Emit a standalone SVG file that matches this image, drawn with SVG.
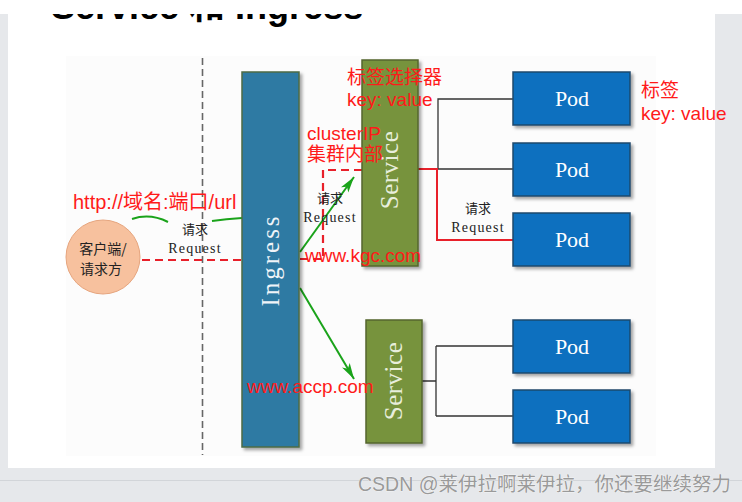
<svg xmlns="http://www.w3.org/2000/svg" width="742" height="502" viewBox="0 0 742 502">
<style>
.red{font-family:"Liberation Sans","Noto Sans CJK SC",sans-serif;fill:#ff1a1a;font-size:19px}
.req{font-family:"Liberation Serif","Noto Sans CJK SC",serif;fill:#222;font-size:14px;text-anchor:middle;letter-spacing:1.2px}
.reqc{font-family:"Noto Sans CJK SC",sans-serif;fill:#222;font-size:13px;text-anchor:middle}
.podt{font-family:"Liberation Serif",serif;fill:#fff;font-size:22px;text-anchor:middle}
.svct{font-family:"Liberation Serif",serif;fill:#e8eedc;font-size:25px;text-anchor:middle;letter-spacing:0.5px}
.pod{fill:#0b6fbf;stroke:#1f4a6e;stroke-width:1.5}
.svc{fill:#77933c;stroke:#55662e;stroke-width:1.5}
.blk{fill:none;stroke:#333;stroke-width:1.3}
.rdash{fill:none;stroke:#e8202a;stroke-width:2.2;stroke-dasharray:8 5}
.garrow{fill:none;stroke:#1aa31a;stroke-width:2}
.cjk{font-family:"Noto Sans CJK SC",sans-serif;font-size:14px;fill:#222;text-anchor:middle}
.title{font-family:"Liberation Sans","Noto Sans CJK SC",sans-serif;font-size:36px;font-weight:bold;fill:#000}
.wm{font-family:"Liberation Sans","Noto Sans CJK SC",sans-serif;font-size:19.5px;fill:#9a9a9a;stroke:#fff;stroke-width:0.6px;paint-order:stroke}
</style>
<defs>
<filter id="sh" x="-20%" y="-20%" width="150%" height="150%">
<feDropShadow dx="2.5" dy="2.5" stdDeviation="1.5" flood-color="#000" flood-opacity="0.35"/>
</filter>
<marker id="ga" markerUnits="userSpaceOnUse" markerWidth="18" markerHeight="10" refX="16" refY="5" orient="auto">
<path d="M0,0.5 L16,5 L0,9.5 L4,5 z" fill="#1aa31a"/>
</marker>
</defs>
<rect x="0" y="0" width="742" height="502" fill="#e6e8eb"/>
<rect x="8" y="0" width="707" height="468" fill="#ffffff"/>
<line x1="0" y1="480.5" x2="742" y2="480.5" stroke="#d2d5d9" stroke-width="1"/>
<text class="title" x="51" y="18.5">Service 和 Ingress</text>
<rect x="0" y="0" width="742" height="14" fill="#ffffff"/>
<rect x="66" y="56" width="590" height="400" fill="#fcfcfc"/>
<line x1="202.5" y1="58" x2="202.5" y2="455" stroke="#666" stroke-width="1.6" stroke-dasharray="7 4"/>

<g id="connectors">
<path class="blk" d="M438,169 V99 H513 M418,169 H513"/>
<path d="M418,169 H437 V240 H513" fill="none" stroke="#e8202a" stroke-width="2"/>
<path class="blk" d="M422,381 H436 M436,346 V416 M436,346 H513 M436,416 H513"/>
<path class="rdash" d="M142,260 H242"/>
<path class="rdash" d="M300,259 H323 V170 H362"/>
<line class="garrow" x1="300" y1="252" x2="354" y2="177" marker-end="url(#ga)"/>
<line class="garrow" x1="300" y1="288" x2="354" y2="379" marker-end="url(#ga)"/>
<path d="M132,219 Q150,213 168,222" fill="none" stroke="#1aa31a" stroke-width="2"/>
<path d="M212,221 Q226,219 242,218" fill="none" stroke="#1aa31a" stroke-width="2"/>
</g>

<g id="client">
<circle cx="103" cy="257" r="37" fill="#f7c19e" stroke="#e6a57e" stroke-width="1"/>
<text class="cjk" x="103" y="254">客户端/</text>
<text class="cjk" x="101" y="274">请求方</text>
</g>

<g id="ingress">
<rect x="242" y="72" width="57" height="375" fill="#2e7aa3" stroke="#4d6b46" stroke-width="1.5" filter="url(#sh)"/>
<text class="svct" transform="translate(271,260) rotate(-90)" y="8" style="letter-spacing:3px;fill:#f0f4f8">Ingress</text>
</g>

<g id="service1">
<rect class="svc" x="362" y="60" width="56" height="206" filter="url(#sh)"/>
<text class="svct" transform="translate(390,170) rotate(-90)" y="8">Service</text>
</g>
<g id="service2">
<rect class="svc" x="366" y="320" width="56" height="123" filter="url(#sh)"/>
<text class="svct" transform="translate(394,381) rotate(-90)" y="8">Service</text>
</g>

<g id="pod1"><rect class="pod" x="513" y="72" width="117" height="53" filter="url(#sh)"/><text class="podt" x="572" y="106">Pod</text></g>
<g id="pod2"><rect class="pod" x="513" y="143" width="117" height="53" filter="url(#sh)"/><text class="podt" x="572" y="177">Pod</text></g>
<g id="pod3"><rect class="pod" x="513" y="213" width="117" height="53" filter="url(#sh)"/><text class="podt" x="572" y="247">Pod</text></g>
<g id="pod4"><rect class="pod" x="513" y="320" width="117" height="53" filter="url(#sh)"/><text class="podt" x="572" y="354">Pod</text></g>
<g id="pod5"><rect class="pod" x="513" y="390" width="117" height="53" filter="url(#sh)"/><text class="podt" x="572" y="424">Pod</text></g>

<g id="labels">
<text class="reqc" x="195" y="234">请求</text>
<text class="req" x="195" y="253">Request</text>
<text class="reqc" x="330" y="203">请求</text>
<text class="req" x="330" y="222">Request</text>
<text class="reqc" x="478" y="213">请求</text>
<text class="req" x="478" y="232">Request</text>
<text class="red" x="73" y="209" style="font-size:20px">http://域名:端口/url</text>
<text class="red" x="347" y="84">标签选择器</text>
<text class="red" x="347" y="106">key: value</text>
<text class="red" x="307" y="140">clusterIP</text>
<text class="red" x="307" y="161">集群内部</text>
<text class="red" x="305" y="262">www.kgc.com</text>
<text class="red" x="247" y="393">www.accp.com</text>
<text class="red" x="641" y="97">标签</text>
<text class="red" x="641" y="120">key: value</text>
</g>

<text class="wm" x="358" y="491">CSDN @莱伊拉啊莱伊拉，你还要继续努力</text>
</svg>
